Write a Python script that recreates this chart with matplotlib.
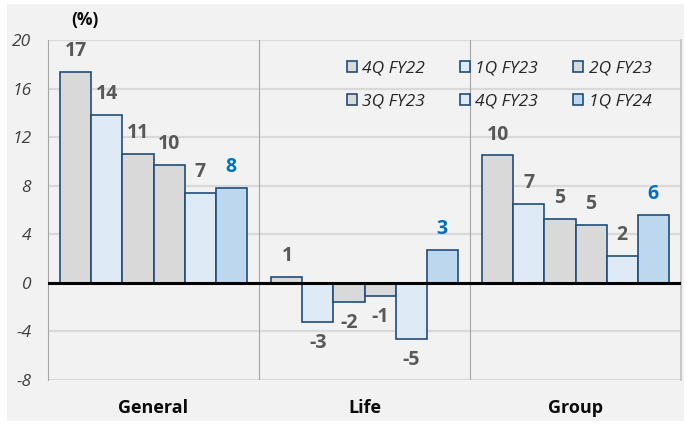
import numpy as np
import matplotlib
matplotlib.use("Agg")
import matplotlib.pyplot as plt
from matplotlib.patches import Patch, Rectangle

plt.rcParams.update({"font.family": ["Open Sans", "DejaVu Sans"]})

segments = ["General", "Life", "Group"]
quarters = ["4Q FY22", "1Q FY23", "2Q FY23", "3Q FY23", "4Q FY23", "1Q FY24"]
values = [
    [17.4, 13.8, 10.6, 9.7, 7.4, 7.8],   # General
    [0.5, -3.2, -1.6, -1.1, -4.6, 2.7],  # Life
    [10.5, 6.5, 5.3, 4.8, 2.2, 5.6],     # Group
]
labels = [
    ["17", "14", "11", "10", "7", "8"],
    ["1", "-3", "-2", "-1", "-5", "3"],
    ["10", "7", "5", "5", "2", "6"],
]
yticks = [-8, -4, 0, 4, 8, 12, 16, 20]

GRAY_BAR, LBLUE, MBLUE = "#d9d9d9", "#deebf7", "#bdd7ee"
fills = [GRAY_BAR, LBLUE, GRAY_BAR, GRAY_BAR, LBLUE, MBLUE]
EDGE = "#1f4e79"
TXT = "#595959"
HILITE = "#0070c0"

fig = plt.figure(figsize=(6.87, 4.25), dpi=100, facecolor="white")
fig.patches.append(Rectangle((7 / 687, 4 / 425), 677 / 687, 417 / 425,
                             transform=fig.transFigure, facecolor="#f2f2f2",
                             edgecolor="none", zorder=-10))
ax = fig.add_axes([48 / 687, 45 / 425, 633 / 687, 340 / 425])
ax.set_facecolor("#f2f2f2")

w = 0.147
for g, seg in enumerate(segments):
    for i, q in enumerate(quarters):
        v = values[g][i]
        x = g + (i - 2.5) * w
        ax.bar(x, v, width=w, color=fills[i], edgecolor=EDGE, linewidth=1.2, zorder=3)
        col = HILITE if i == len(quarters) - 1 else TXT
        off = 15 if v >= 0 else -15
        ax.annotate(labels[g][i], (x, v), xytext=(0, off), textcoords="offset points",
                    ha="center", va="center", fontsize=14, fontweight="bold", color=col)

ax.set_xlim(-0.5, 2.5)
ax.set_ylim(-8, 20)
ax.set_yticks(yticks)
ax.set_yticklabels([str(t) for t in yticks], fontstyle="italic", fontsize=12.5, color="#404040")
ax.set_xticks(range(len(segments)))
ax.set_xticklabels(segments, fontweight="bold", fontsize=13, color="#0b0b0b")
ax.tick_params(axis="both", length=0)
ax.tick_params(axis="x", pad=14)
ax.tick_params(axis="y", pad=12)

for t in yticks:
    if t != 0:
        ax.axhline(t, color="#d9d9d9", lw=1.6, zorder=1)
ax.axhline(0, color="black", lw=2.2, zorder=4)
for xb in [0.5, 1.5]:
    ax.axvline(xb, color="#a6a6a6", lw=0.8, zorder=1)

for s in ["top", "bottom"]:
    ax.spines[s].set_visible(False)
ax.spines["left"].set_color("#a6a6a6")
ax.spines["left"].set_linewidth(0.8)
ax.spines["right"].set_color("#bfbfbf")
ax.spines["right"].set_linewidth(1.2)

handles = [Patch(facecolor=fills[i], edgecolor=EDGE, linewidth=1.2, label=q)
           for i, q in enumerate(quarters)]
order = [0, 3, 1, 4, 2, 5]
ax.legend([handles[k] for k in order], [quarters[k] for k in order],
          ncol=3, loc="upper left", bbox_to_anchor=(0.447, 0.985), frameon=False,
          prop={"style": "italic", "size": 12.5}, labelcolor="#262626",
          handlelength=0.6, handleheight=0.6, handletextpad=0.3,
          columnspacing=2.0, labelspacing=0.95)

fig.text(85 / 687, 1 - 20 / 425, "(%)", ha="center", va="center",
         fontsize=12.5, fontweight="bold", color="#0b0b0b")

fig.savefig("out.png", dpi=100, facecolor="white")
